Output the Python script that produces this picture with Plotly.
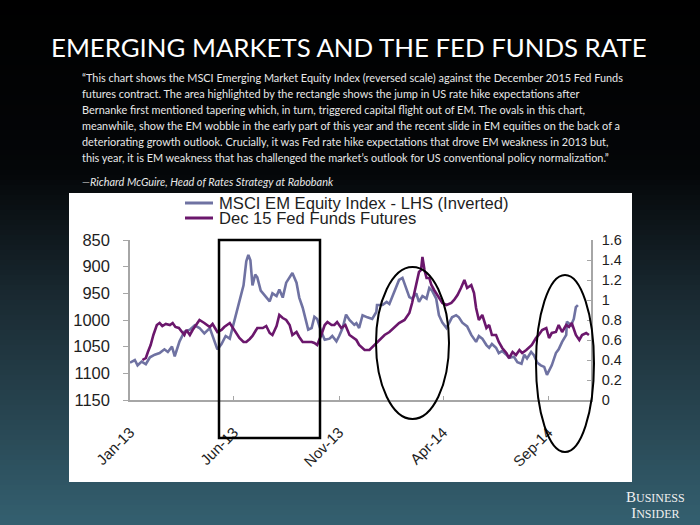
import plotly.graph_objects as go

# ---------------- data ----------------
msci_dates = [
    "2013-01-01", "2013-01-08", "2013-01-12", "2013-01-18", "2013-01-24", "2013-01-30",
    "2013-02-06", "2013-02-13", "2013-02-20", "2013-02-25", "2013-03-03", "2013-03-07",
    "2013-03-14", "2013-03-21", "2013-03-29", "2013-04-05", "2013-04-12", "2013-04-19",
    "2013-04-27", "2013-05-04", "2013-05-08", "2013-05-14", "2013-05-20", "2013-05-26",
    "2013-05-30", "2013-06-03", "2013-06-08", "2013-06-11", "2013-06-15", "2013-06-19",
    "2013-06-22", "2013-06-25", "2013-06-28", "2013-07-02", "2013-07-05", "2013-07-10",
    "2013-07-17", "2013-07-23", "2013-07-27", "2013-08-02", "2013-08-06", "2013-08-11",
    "2013-08-16", "2013-08-25", "2013-08-31", "2013-09-04", "2013-09-09", "2013-09-14",
    "2013-09-17", "2013-09-22", "2013-09-26", "2013-09-30", "2013-10-06", "2013-10-11",
    "2013-10-18", "2013-10-22", "2013-10-28", "2013-11-01", "2013-11-06", "2013-11-11",
    "2013-11-16", "2013-11-23", "2013-11-26", "2013-11-30", "2013-12-05", "2013-12-12",
    "2013-12-19", "2013-12-25", "2013-12-26", "2014-01-03", "2014-01-09", "2014-01-13",
    "2014-01-17", "2014-01-23", "2014-01-27", "2014-02-01", "2014-02-07", "2014-02-11",
    "2014-02-15", "2014-02-21", "2014-02-25", "2014-03-02", "2014-03-08", "2014-03-12",
    "2014-03-16", "2014-03-22", "2014-03-26", "2014-03-31", "2014-04-06", "2014-04-10",
    "2014-04-14", "2014-04-20", "2014-04-24", "2014-04-29", "2014-05-06", "2014-05-12",
    "2014-05-16", "2014-05-19", "2014-05-23", "2014-05-28", "2014-06-03", "2014-06-07",
    "2014-06-11", "2014-06-17", "2014-06-21", "2014-06-26", "2014-07-02", "2014-07-06",
    "2014-07-13", "2014-07-18", "2014-07-24", "2014-07-28", "2014-08-01", "2014-08-07",
    "2014-08-11", "2014-08-16", "2014-08-21", "2014-08-26", "2014-08-30", "2014-09-02",
    "2014-09-06", "2014-09-12", "2014-09-16", "2014-09-21", "2014-09-27", "2014-09-28",
    "2014-10-04", "2014-10-08", "2014-10-11", "2014-10-14",
]
msci_values = [
    1080, 1075, 1085, 1078, 1083, 1070,
    1065, 1062, 1055, 1060, 1050, 1068,
    1040, 1022, 1018, 1010, 1015, 1025,
    1015, 1040, 1055, 1045, 1030, 1035,
    1015, 995, 970, 950, 935, 890,
    878, 888, 935, 915, 920, 945,
    955, 965, 950, 955, 943, 958,
    930, 912, 930, 958, 977, 1003,
    1018, 1015, 994, 998, 1022, 1037,
    1035, 1030, 1040, 1030, 1015, 990,
    1000, 1009, 1006, 1015, 991, 995,
    998, 985, 972, 972, 966, 970,
    957, 938, 925, 921, 945, 957,
    960, 950, 966, 955, 960, 940,
    945, 960, 991, 1005, 1015, 1005,
    995, 991, 995, 1005, 1012, 1028,
    1035, 1041, 1030, 1035, 1047, 1052,
    1045, 1052, 1062, 1058, 1065, 1071,
    1069, 1079, 1082, 1065, 1072, 1060,
    1066, 1080, 1085, 1088, 1103, 1095,
    1085, 1062, 1055, 1041, 1028, 1003,
    1010, 998, 976, 972,
]

fed_dates = [
    "2013-01-19", "2013-01-24", "2013-01-27", "2013-01-31", "2013-02-04", "2013-02-09",
    "2013-02-13", "2013-02-17", "2013-02-22", "2013-02-28", "2013-03-04", "2013-03-08",
    "2013-03-13", "2013-03-17", "2013-03-21", "2013-03-24", "2013-03-29", "2013-04-02",
    "2013-04-08", "2013-04-12", "2013-04-19", "2013-04-27", "2013-05-01", "2013-05-08",
    "2013-05-14", "2013-05-18", "2013-05-26", "2013-06-02", "2013-06-09", "2013-06-15",
    "2013-06-19", "2013-06-24", "2013-06-28", "2013-07-05", "2013-07-13", "2013-07-18",
    "2013-07-23", "2013-07-27", "2013-08-02", "2013-08-06", "2013-08-11", "2013-08-16",
    "2013-08-21", "2013-08-25", "2013-08-31", "2013-09-04", "2013-09-09", "2013-09-14",
    "2013-09-22", "2013-09-26", "2013-09-30", "2013-10-06", "2013-10-11", "2013-10-15",
    "2013-10-21", "2013-10-25", "2013-10-29", "2013-11-04", "2013-11-10", "2013-11-16",
    "2013-11-23", "2013-11-26", "2013-11-30", "2013-12-08", "2013-12-15", "2013-12-22",
    "2013-12-29", "2014-01-06", "2014-01-13", "2014-01-20", "2014-01-27", "2014-02-04",
    "2014-02-11", "2014-02-15", "2014-02-21", "2014-02-25", "2014-02-28", "2014-03-02",
    "2014-03-05", "2014-03-08", "2014-03-12", "2014-03-15", "2014-03-19", "2014-03-26",
    "2014-03-31", "2014-04-06", "2014-04-13", "2014-04-17", "2014-04-22", "2014-04-27",
    "2014-05-02", "2014-05-06", "2014-05-12", "2014-05-16", "2014-05-19", "2014-05-23",
    "2014-05-28", "2014-06-03", "2014-06-07", "2014-06-11", "2014-06-17", "2014-06-21",
    "2014-06-26", "2014-07-02", "2014-07-06", "2014-07-11", "2014-07-16", "2014-07-21",
    "2014-07-25", "2014-07-31", "2014-08-04", "2014-08-08", "2014-08-14", "2014-08-18",
    "2014-08-23", "2014-08-29", "2014-09-02", "2014-09-06", "2014-09-12", "2014-09-16",
    "2014-09-21", "2014-09-27", "2014-10-01", "2014-10-05", "2014-10-11", "2014-10-16",
    "2014-10-20", "2014-10-26", "2014-10-30",
]
fed_values = [
    0.40, 0.42, 0.48, 0.55, 0.65, 0.75,
    0.77, 0.74, 0.76, 0.75, 0.77, 0.73,
    0.72, 0.68, 0.65, 0.70, 0.65, 0.70,
    0.76, 0.80, 0.77, 0.73, 0.76, 0.68,
    0.70, 0.73, 0.77, 0.70, 0.62, 0.58,
    0.58, 0.61, 0.64, 0.72, 0.72, 0.74,
    0.67, 0.65, 0.74, 0.85, 0.82, 0.80,
    0.75, 0.65, 0.68, 0.63, 0.58, 0.58,
    0.58, 0.57, 0.55, 0.65, 0.75, 0.78,
    0.75, 0.75, 0.78, 0.72, 0.75, 0.65,
    0.62, 0.60, 0.55, 0.50, 0.50, 0.55,
    0.60, 0.65, 0.68, 0.73, 0.77, 0.80,
    0.87, 0.97, 1.15, 1.28, 1.30, 1.43,
    1.30, 1.22, 1.22, 1.15, 1.10, 1.02,
    0.97, 0.95, 0.97, 1.00, 1.05, 1.12,
    1.20, 1.12, 1.15, 1.07, 0.92, 0.80,
    0.85, 0.72, 0.75, 0.65, 0.65, 0.58,
    0.52, 0.47, 0.42, 0.48, 0.45, 0.50,
    0.47, 0.50, 0.53, 0.55, 0.62, 0.65,
    0.70, 0.72, 0.62, 0.67, 0.68, 0.75,
    0.68, 0.75, 0.73, 0.77, 0.65, 0.60,
    0.65, 0.67, 0.65,
]

series_names = ["MSCI EM Equity Index - LHS (Inverted)", "Dec 15 Fed Funds Futures"]
x_range = ["2013-01-01", "2014-11-02"]
left_range = [1150, 850]
right_range = [0, 1.6]

title_text = "EMERGING MARKETS AND THE FED FUNDS RATE"
quote_lines = [
    "\u201cThis chart shows the MSCI Emerging Market Equity Index (reversed scale) against the December 2015 Fed Funds",
    "futures contract. The area highlighted by the rectangle shows the jump in US rate hike expectations after",
    "Bernanke first mentioned tapering which, in turn, triggered capital flight out of EM. The ovals in this chart,",
    "meanwhile, show the EM wobble in the early part of this year and the recent slide in EM equities on the back of a",
    "deteriorating growth outlook. Crucially, it was Fed rate hike expectations that drove EM weakness in 2013 but,",
    "this year, it is EM weakness that has challenged the market\u2019s outlook for US conventional policy normalization.\u201d",
]
attribution = "\u2014Richard McGuire, Head of Rates Strategy at Rabobank"

# ---------------- geometry ----------------
W, H = 700, 525
L, R, T, B = 130, 109, 240, 125
PW = W - L - R
PH = H - T - B


def px(p):
    return (p - L) / PW


def py(p):
    return (H - B - p) / PH


GREY = "#6f72a2"
PURPLE = "#6b176c"
AXIS = "#a6a6a6"
TXT = "#1e1e1e"

fig = go.Figure()
fig.add_trace(go.Scatter(x=msci_dates, y=msci_values, mode="lines", name=series_names[0],
                         line=dict(color=GREY, width=2.6), yaxis="y", showlegend=False))
fig.add_trace(go.Scatter(x=fed_dates, y=fed_values, mode="lines", name=series_names[1],
                         line=dict(color=PURPLE, width=2.6), yaxis="y2", showlegend=False))

shapes = []
# background gradient bands
stops = [(0, (0, 0, 0)), (170, (4, 6, 8)), (300, (26, 42, 50)), (420, (40, 70, 82)), (525, (52, 96, 112))]


def col_at(yv):
    for (y0, c0), (y1, c1) in zip(stops[:-1], stops[1:]):
        if y0 <= yv <= y1:
            t = (yv - y0) / (y1 - y0)
            return "rgb(%d,%d,%d)" % tuple(round(a + (b - a) * t) for a, b in zip(c0, c1))
    return "rgb(%d,%d,%d)" % stops[-1][1]


step = 5
for yb in range(0, H, step):
    shapes.append(dict(type="rect", xref="paper", yref="paper", layer="below",
                       x0=px(0), x1=px(W), y0=py(yb + step + 0.5), y1=py(yb),
                       fillcolor=col_at(yb + step / 2), line=dict(width=0)))
# white chart panel
shapes.append(dict(type="rect", xref="paper", yref="paper", layer="below",
                   x0=px(69), x1=px(632), y0=py(482), y1=py(193),
                   fillcolor="white", line=dict(width=0)))
# highlight rectangle
shapes.append(dict(type="rect", xref="paper", yref="paper", layer="above",
                   x0=px(219), x1=px(320), y0=py(438), y1=py(240),
                   line=dict(color="black", width=2.5)))
# ovals
shapes.append(dict(type="circle", xref="paper", yref="paper", layer="above",
                   x0=px(376), x1=px(449), y0=py(419), y1=py(267),
                   line=dict(color="black", width=2)))
shapes.append(dict(type="circle", xref="paper", yref="paper", layer="above",
                   x0=px(536), x1=px(594), y0=py(452), y1=py(275),
                   line=dict(color="black", width=2)))
# manual legend samples
for yy, c in [(203, GREY), (218, PURPLE)]:
    shapes.append(dict(type="line", xref="paper", yref="paper",
                       x0=px(185), x1=px(213), y0=py(yy), y1=py(yy),
                       line=dict(color=c, width=3)))

ann = []
ann.append(dict(text=title_text, x=px(349), y=py(47), xref="paper", yref="paper",
                showarrow=False, xanchor="center", yanchor="middle",
                font=dict(family="Lato", size=25.8, color="white")))
for i, line in enumerate(quote_lines):
    ann.append(dict(text=line, x=px(80), y=py(77 + 16 * i), xref="paper", yref="paper",
                    showarrow=False, xanchor="left", yanchor="middle",
                    font=dict(family="Lato", size=10.9, color="#e8e8e8")))
ann.append(dict(text="<i>" + attribution + "</i>", x=px(80), y=py(181), xref="paper", yref="paper",
                showarrow=False, xanchor="left", yanchor="middle",
                font=dict(family="Lato", size=10.9, color="#e8e8e8")))
for yy, name in [(203, series_names[0]), (218, series_names[1])]:
    ann.append(dict(text=name, x=px(217), y=py(yy), xref="paper", yref="paper",
                    showarrow=False, xanchor="left", yanchor="middle",
                    font=dict(family="Liberation Sans", size=16.6, color=TXT)))
ann.append(dict(text="<span style='font-size:15px'>B</span>USINESS<br><span style='font-size:15px'>I</span>NSIDER",
                x=px(655), y=py(505), xref="paper", yref="paper", showarrow=False,
                xanchor="center", yanchor="middle", align="center",
                font=dict(family="Liberation Serif", size=12, color="#f0f0f0")))

fig.update_layout(
    width=W, height=H,
    margin=dict(l=L, r=R, t=T, b=B, pad=0),
    paper_bgcolor="black",
    plot_bgcolor="rgba(0,0,0,0)",
    shapes=shapes,
    annotations=ann,
    showlegend=False,
    xaxis=dict(type="date", range=x_range, tick0="2013-01-01", dtick="M5", tickformat="%b-%y",
               tickangle=-45, ticks="inside", ticklen=4, tickcolor=AXIS, showline=True,
               linecolor=AXIS, linewidth=1.5, showgrid=False, zeroline=False,
               ticklabelstandoff=16,
               tickfont=dict(family="Liberation Sans", size=15, color=TXT)),
    yaxis=dict(range=left_range, tick0=850, dtick=50, ticks="outside", ticklen=5, tickcolor=AXIS,
               showline=True, linecolor=AXIS, linewidth=1.5, showgrid=False, zeroline=False,
               ticklabelstandoff=10,
               tickfont=dict(family="Liberation Sans", size=16.5, color=TXT)),
    yaxis2=dict(range=right_range, overlaying="y", side="right", tick0=0, dtick=0.2,
                ticks="inside", ticklen=4, tickcolor=AXIS, showline=True, linecolor=AXIS,
                linewidth=1.5, showgrid=False, zeroline=False, ticklabelstandoff=6,
                tickfont=dict(family="Liberation Sans", size=14.5, color=TXT)),
)

fig.write_html("out.html", config={"displayModeBar": False},
               post_script="document.body.style.margin='0';document.body.style.background='black';")
